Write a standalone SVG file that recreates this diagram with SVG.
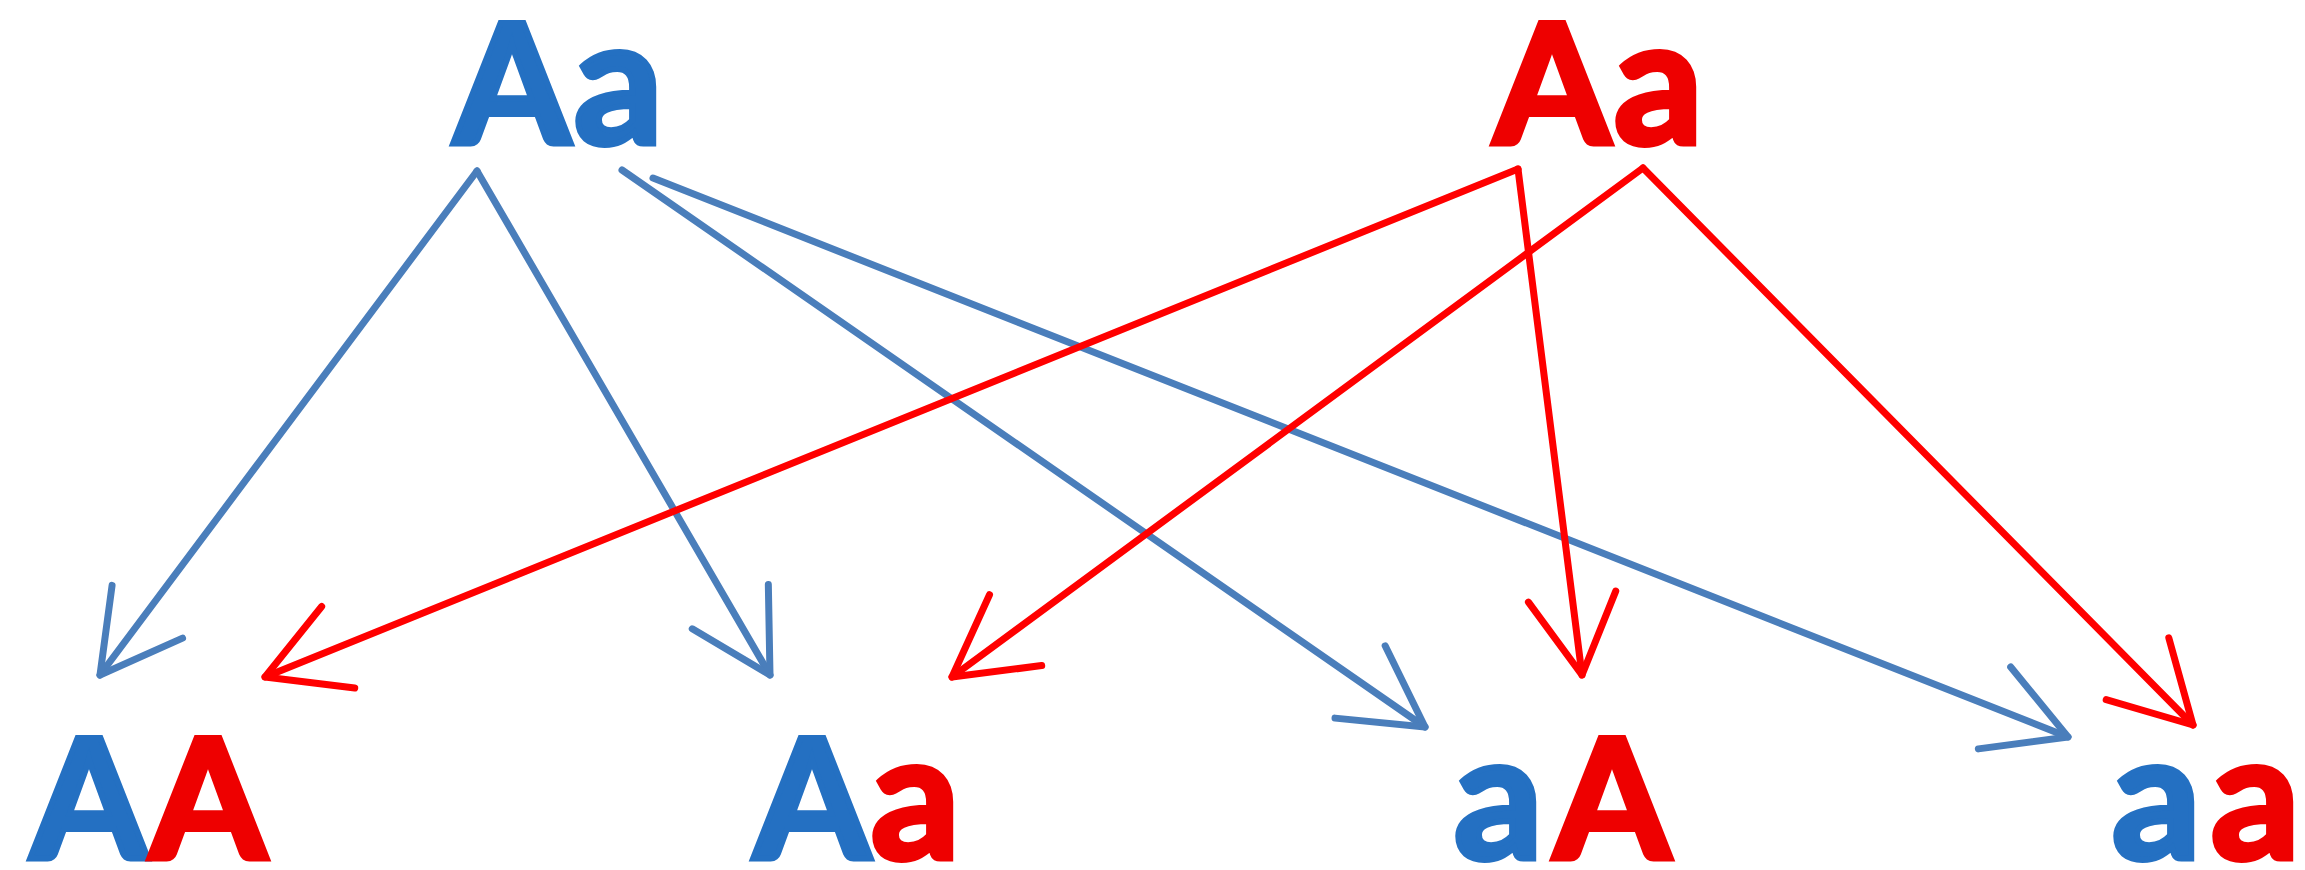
<svg xmlns="http://www.w3.org/2000/svg" width="2305" height="870" viewBox="0 0 2305 870">
<style>
.t{font-family:Lato,"Open Sans","Liberation Sans",sans-serif;font-weight:bold;font-size:167px;stroke-width:6;stroke-linejoin:miter}
.s{font-size:175px}
.b{fill:#2470C2;stroke:#2470C2}
.r{fill:#EE0000;stroke:#EE0000}
.lb{stroke:#4A7EBB;stroke-width:7;fill:none;stroke-linecap:round}
.lr{stroke:#FF0000;stroke-width:7;fill:none;stroke-linecap:round}
</style>
<defs>
<marker id="ab" markerUnits="userSpaceOnUse" orient="auto" refX="0" refY="0" markerWidth="200" markerHeight="200" overflow="visible">
<path d="M -79 -44 L 0 0 L -79 44" fill="none" stroke="#4A7EBB" stroke-width="7" stroke-linecap="round" stroke-linejoin="round"/>
</marker>
<marker id="ar" markerUnits="userSpaceOnUse" orient="auto" refX="0" refY="0" markerWidth="200" markerHeight="200" overflow="visible">
<path d="M -79 -44 L 0 0 L -79 44" fill="none" stroke="#FF0000" stroke-width="7" stroke-linecap="round" stroke-linejoin="round"/>
</marker>
</defs>
<g id="connectors">
<line class="lb" x1="477" y1="171" x2="100" y2="675" marker-end="url(#ab)"/>
<line class="lb" x1="477" y1="171" x2="770" y2="675" marker-end="url(#ab)"/>
<line class="lb" x1="622" y1="170" x2="1425" y2="727" marker-end="url(#ab)"/>
<line class="lb" x1="653" y1="178" x2="2068" y2="737" marker-end="url(#ab)"/>
<line class="lr" x1="1518" y1="169" x2="265" y2="677" marker-end="url(#ar)"/>
<line class="lr" x1="1518" y1="169" x2="1582" y2="675" marker-end="url(#ar)"/>
<line class="lr" x1="1643" y1="168" x2="952" y2="677" marker-end="url(#ar)"/>
<line class="lr" x1="1643" y1="168" x2="2193" y2="725" marker-end="url(#ar)"/>
</g>
<g id="parent1"><text class="t" y="144"><tspan class="b" x="454">A</tspan><tspan class="b s" x="574">a</tspan></text></g>
<g id="parent2"><text class="t" y="144"><tspan class="r" x="1494">A</tspan><tspan class="r s" x="1614">a</tspan></text></g>
<g id="childAA"><text class="t" y="859"><tspan class="b" x="31">A</tspan><tspan class="r" x="150">A</tspan></text></g>
<g id="childAa"><text class="t" y="859"><tspan class="b" x="754">A</tspan><tspan class="r s" x="871">a</tspan></text></g>
<g id="childaA"><text class="t" y="859"><tspan class="b s" x="1454">a</tspan><tspan class="r" x="1554">A</tspan></text></g>
<g id="childaa"><text class="t" y="859"><tspan class="b s" x="2112">a</tspan><tspan class="r s" x="2211">a</tspan></text></g>
</svg>
